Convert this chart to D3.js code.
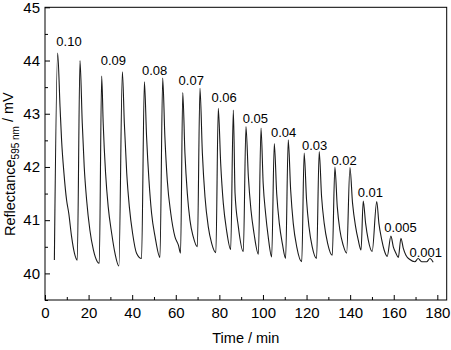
<!DOCTYPE html>
<html>
<head>
<meta charset="utf-8">
<script src="https://cdn.jsdelivr.net/npm/d3@7"></script>
<style>
  html, body { margin: 0; padding: 0; background: #fff; }
  text { font-family: "Liberation Sans", Arial, sans-serif; fill: #000; }
</style>
</head>
<body>
<svg id="chart" width="451" height="350"></svg>
<script>
// ---- data ----
const time = [
  4.3, 5.8, 6.9, 7.6, 8.7, 9.9, 10.9, 12.2, 13.5, 14.8,
  16.05, 17.1, 18.0, 19.1, 20.6, 22.2, 24.0, 24.9,
  26.0, 26.7, 27.8, 29.0, 30.6, 32.1, 33.9,
  35.5, 36.4, 37.5, 38.7, 40.2, 42.0, 44.3,
  45.6, 46.6, 47.7, 48.9, 50.5, 52.75,
  54.0, 55.0, 56.1, 57.7, 59.6, 61.2, 62.2,
  63.2, 64.2, 65.3, 66.5, 68.0, 69.9,
  71.1, 72.2, 73.4, 74.9, 76.5, 78.4,
  79.5, 80.6, 81.8, 83.3, 85.2,
  86.4, 87.2, 88.7, 91.0,
  92.2, 93.3, 94.5, 95.9, 97.9,
  99.1, 100.1, 101.2, 102.4, 104.0,
  105.2, 106.3, 107.5, 108.9, 110.4,
  111.6, 112.7, 113.9, 115.5, 117.8,
  118.9, 120.0, 121.1, 122.6, 124.6,
  125.8, 126.9, 128.1, 129.7, 131.8,
  133.0, 134.1, 135.3, 136.8, 138.4,
  139.9, 141.1, 142.5, 143.7, 145.0,
  146.0, 147.1, 148.3, 150.1,
  152.2, 153.2, 154.5, 155.6, 157.0,
  158.7, 159.8, 161.0, 162.1,
  163.3, 164.4, 165.6, 167.4,
  169.7, 171.2, 172.8, 175.1, 176.6, 178.1
];
const reflectance = [
  40.25, 44.14, 43.13, 42.51, 41.88, 41.38, 41.13, 40.69, 40.38, 40.25,
  44.00, 42.82, 42.00, 41.38, 40.81, 40.44, 40.22, 40.19,
  43.71, 42.82, 41.88, 41.25, 40.75, 40.38, 40.14,
  43.79, 42.82, 41.88, 41.25, 40.75, 40.38, 40.28,
  43.60, 42.57, 41.75, 41.13, 40.69, 40.30,
  43.67, 42.57, 41.75, 41.13, 40.69, 40.53, 40.38,
  43.40, 42.26, 41.50, 41.00, 40.69, 40.50,
  43.48, 42.26, 41.44, 40.88, 40.56, 40.39,
  43.10, 42.07, 41.32, 40.81, 40.45,
  43.07, 41.50, 40.88, 40.41,
  42.76, 41.82, 41.19, 40.75, 40.36,
  42.73, 41.69, 41.13, 40.69, 40.31,
  42.44, 41.50, 40.94, 40.56, 40.28,
  42.51, 41.57, 40.94, 40.50, 40.22,
  42.26, 41.38, 40.88, 40.50, 40.28,
  42.29, 41.44, 40.94, 40.56, 40.34,
  42.00, 41.25, 40.81, 40.53, 40.38,
  41.99, 41.32, 40.88, 40.63, 40.44,
  41.36, 40.94, 40.63, 40.41,
  41.35, 40.94, 40.63, 40.44, 40.32,
  40.70, 40.50, 40.38, 40.30,
  40.66, 40.47, 40.34, 40.26,
  40.22, 40.28, 40.22, 40.22, 40.28, 40.21
];
const labelText  = ["0.10", "0.09", "0.08", "0.07", "0.06", "0.05", "0.04", "0.03", "0.02", "0.01", "0.005", "0.001"];
const labelTime  = [11.0, 31.4, 50.3, 67.1, 82.2, 96.5, 109.5, 123.7, 137.2, 149.3, 163.1, 174.7];
const labelValue = [44.35, 44.0, 43.82, 43.62, 43.31, 42.91, 42.64, 42.41, 42.12, 41.53, 40.87, 40.39];
const xTicks = [0, 20, 40, 60, 80, 100, 120, 140, 160, 180];
const xMinorTicks = [10, 30, 50, 70, 90, 110, 130, 150, 170];
const yTicks = [40, 41, 42, 43, 44, 45];
const yMinorTicks = [39.5, 40.5, 41.5, 42.5, 43.5, 44.5];

// ---- layout ----
const svg = d3.select("#chart");
const L = 45, R = 446.7, T = 7.3, B = 300;
const x = d3.scaleLinear().domain([0, 184.3]).range([L, R]);
const y = d3.scaleLinear().domain([39.5, 45]).range([B, T]);

// curve
const pts = time.map((t, i) => [t, reflectance[i]]);
svg.append("path")
  .datum(pts)
  .attr("fill", "none")
  .attr("stroke", "#1a1a1a")
  .attr("stroke-width", 1.1)
  .attr("stroke-linejoin", "round")
  .attr("d", d3.line().x(d => x(d[0])).y(d => y(d[1])).curve(d3.curveMonotoneX));

// axes
const fontSize = "15px";
const gx = svg.append("g").attr("transform", `translate(0,${B})`)
  .call(d3.axisBottom(x).tickValues(xTicks).tickSize(-5).tickPadding(7).tickFormat(d3.format("d")));
const gxm = svg.append("g").attr("transform", `translate(0,${B})`)
  .call(d3.axisBottom(x).tickValues(xMinorTicks).tickSize(-3).tickFormat(""));
const gy = svg.append("g").attr("transform", `translate(${L},0)`)
  .call(d3.axisLeft(y).tickValues(yTicks).tickSize(-5).tickPadding(5).tickFormat(d3.format("d")));
const gym = svg.append("g").attr("transform", `translate(${L},0)`)
  .call(d3.axisLeft(y).tickValues(yMinorTicks).tickSize(-3).tickFormat(""));
[gx, gxm, gy, gym].forEach(g => {
  g.select(".domain").remove();
  g.selectAll("line").attr("stroke", "#000");
  g.selectAll("text").style("font-size", fontSize)
    .style("font-family", '"Liberation Sans", Arial, sans-serif').attr("fill", "#000");
});

// frame
svg.append("rect")
  .attr("x", L).attr("y", T).attr("width", R - L).attr("height", B - T)
  .attr("fill", "none").attr("stroke", "#000").attr("stroke-width", 1);

// peak labels
svg.append("g").selectAll("text")
  .data(labelText)
  .join("text")
  .attr("x", (d, i) => x(labelTime[i]))
  .attr("y", (d, i) => y(labelValue[i]))
  .attr("dy", "0.35em")
  .attr("text-anchor", "middle")
  .style("font-size", "13px")
  .text(d => d);

// axis titles
svg.append("text")
  .attr("x", (L + R) / 2).attr("y", 343)
  .attr("text-anchor", "middle")
  .style("font-size", "14.5px")
  .text("Time / min");

const yt = svg.append("text")
  .attr("transform", "translate(15,236) rotate(-90)")
  .attr("text-anchor", "start")
  .style("font-size", "14.5px");
yt.append("tspan").text("Reflectance");
yt.append("tspan").attr("dy", "0.35em").style("font-size", "10px").text("595 nm");
yt.append("tspan").attr("dy", "-0.35em").text(" / mV");
</script>
</body>
</html>
